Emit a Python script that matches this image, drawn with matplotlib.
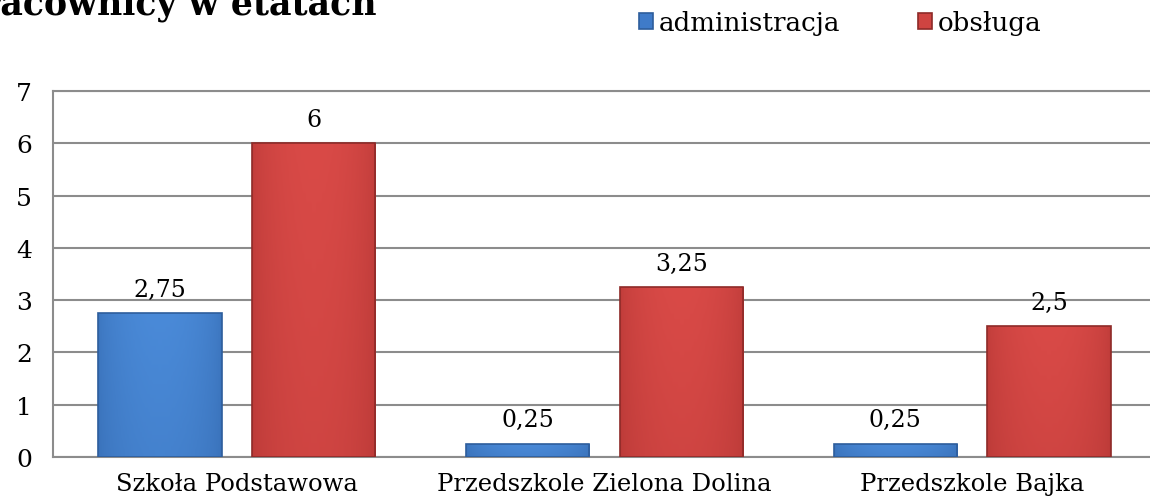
import numpy as np
import matplotlib.pyplot as plt
from matplotlib.colors import LinearSegmentedColormap

categories = ["Szkoła Podstawowa", "Przedszkole Zielona Dolina", "Przedszkole Bajka"]
administracja = [2.75, 0.25, 0.25]
obsluga = [6, 3.25, 2.5]
series_names = ["administracja", "obsługa"]
value_labels_adm = ["2,75", "0,25", "0,25"]
value_labels_obs = ["6", "3,25", "2,5"]

plt.rcParams['font.family'] = ['DejaVu Serif']


def shade(ax, bars, light, dark):
    # horizontal + vertical gradient inside each bar, clipped to the bar
    cmap = LinearSegmentedColormap.from_list("g", [dark, light, dark])
    xs = np.linspace(0, 1, 64)
    grad = np.tile(0.5 + 0.5 * np.sin(np.pi * xs) ** 0.6, (32, 1))
    grad = grad * np.linspace(1.0, 0.8, 32)[:, None]
    for rect in bars:
        x0, w, h = rect.get_x(), rect.get_width(), rect.get_height()
        im = ax.imshow(grad, cmap=cmap, vmin=0, vmax=2, aspect="auto",
                       extent=(x0, x0 + w, 0, h), origin="upper", zorder=3.5)
        im.set_clip_path(rect)


def main():
    fig = plt.figure(figsize=(11.5, 5.02), dpi=100)
    ax = fig.add_axes([53 / 1150, 1 - 458 / 502, 1103 / 1150, 366 / 502])

    x = np.arange(len(categories))
    w = 0.335
    off = 0.209
    b1 = ax.bar(x - off, administracja, w, color="#3f7bc9", edgecolor="#2d5d9c", linewidth=1.2, zorder=3)
    b2 = ax.bar(x + off, obsluga, w, color="#cf4441", edgecolor="#8e2a28", linewidth=1.2, zorder=3)
    shade(ax, b1, "#4a8ad8", "#2f62a6")
    shade(ax, b2, "#d94a47", "#a8302e")
    for rect in list(b1) + list(b2):
        rect.set_zorder(4)
        rect.set_facecolor("none")

    for bars, labels in [(b1, value_labels_adm), (b2, value_labels_obs)]:
        for rect, lab in zip(bars, labels):
            ax.annotate(lab, (rect.get_x() + rect.get_width() / 2, rect.get_height()),
                        xytext=(0, 9), textcoords="offset points",
                        ha="center", va="bottom", fontsize=17)

    ax.set_xlim(-0.5, 2.5)
    ax.set_ylim(0, 7)
    ax.set_yticks(range(0, 8))
    ax.set_xticks(x)
    ax.set_xticklabels(categories, fontsize=17.5)
    ax.tick_params(axis="y", labelsize=18, length=0, pad=15)
    ax.tick_params(axis="x", length=0, pad=11)
    ax.grid(axis="y", color="#8c8c8c", linewidth=1.5, zorder=0)
    for s in ax.spines.values():
        s.set_color("#8c8c8c")
        s.set_linewidth(1.5)

    # title is cut at the left edge in the original
    title = fig.text(0, 1 - 15 / 502, "Pracownicy w etatach", fontsize=25, fontweight="bold",
                     ha="left", va="baseline")
    fig.canvas.draw()
    r = fig.canvas.get_renderer()
    pr = fig.text(0, 0, "Pr", fontsize=25, fontweight="bold")
    wpr = pr.get_window_extent(r).width
    pr.remove()
    title.set_x(-wpr / fig.bbox.width)

    ax.legend([b1, b2], series_names, loc="center left", bbox_to_anchor=(639 / 1150, 1 - 24 / 502),
              bbox_transform=fig.transFigure, ncol=2, frameon=False, fontsize=18.8,
              handlelength=0.54, handleheight=0.54, handletextpad=0.2, columnspacing=3.0,
              borderaxespad=0.0, borderpad=0.0)
    for h, c in zip(ax.get_legend().legend_handles, ["#3f7bc9", "#cf4441"]):
        h.set_facecolor(c)

    fig.savefig("out.png", dpi=100)


if __name__ == "__main__":
    main()
